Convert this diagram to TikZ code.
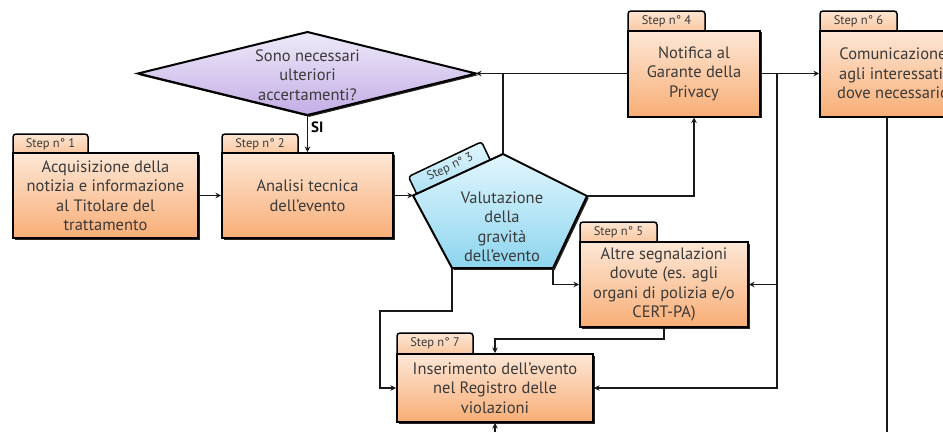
\documentclass[tikz,border=0pt]{standalone}
\usepackage{fontspec}
\setmainfont{PT Sans}
\usetikzlibrary{shadows,arrows.meta}
\definecolor{txt}{HTML}{3A3A3A}
\definecolor{orT}{HTML}{FDE7D6}
\definecolor{orB}{HTML}{F8AE76}
\definecolor{tabT}{HTML}{FDE6D3}
\definecolor{tabB}{HTML}{F9C094}
\definecolor{blT}{HTML}{E2F6FD}
\definecolor{blB}{HTML}{8DD5EF}
\definecolor{liT}{HTML}{EEEAF9}
\definecolor{liB}{HTML}{C3ADE5}
\begin{document}
\begin{tikzpicture}[x=1pt,y=-1pt,
  shd/.style={drop shadow={shadow xshift=1.8pt,shadow yshift=-1.8pt,opacity=1,fill=black!85}},
  bodytxt/.style={font=\fontsize{16.5}{19.5}\selectfont,text=txt,align=center,inner sep=0pt},
  stepbox/.style={draw=black,line width=2pt,top color=orT,bottom color=orB,shd,bodytxt},
  tabbox/.style={draw=black,line width=1.5pt,top color=tabT,bottom color=tabB},
  tablbl/.style={font=\fontsize{12.5}{13}\selectfont,text=txt,inner sep=0pt},
  conn/.style={line width=1.8pt,draw=black!90},
  arr/.style={conn,-{Stealth[length=5.5pt,width=5.5pt]}},
]
\useasboundingbox (0,0) rectangle (943,432);
\clip (0,0) rectangle (943,432);

% tabs
\draw[tabbox] (13,158) [rounded corners=3pt] -- (13,134) -- (88,134) [sharp corners] -- (88,158) -- cycle;
\node[tablbl] (t1) at (50.5,144) {Step n° 1};
\draw[tabbox] (222,158) [rounded corners=3pt] -- (222,134) -- (298,134) [sharp corners] -- (298,158) -- cycle;
\node[tablbl] (t2) at (260,144) {Step n° 2};
\draw[tabbox] (628,36) [rounded corners=3pt] -- (628,11) -- (705,11) [sharp corners] -- (705,36) -- cycle;
\node[tablbl] (t4) at (666.5,21) {Step n° 4};
\draw[tabbox] (820,36) [rounded corners=3pt] -- (820,11) -- (897,11) [sharp corners] -- (897,36) -- cycle;
\node[tablbl] (t6) at (858.5,21) {Step n° 6};
\draw[tabbox] (580,247) [rounded corners=3pt] -- (580,222) -- (657,222) [sharp corners] -- (657,247) -- cycle;
\node[tablbl] (t5) at (618.5,232) {Step n° 5};
\draw[tabbox] (397,359) [rounded corners=3pt] -- (397,333) -- (473,333) [sharp corners] -- (473,359) -- cycle;
\node[tablbl] (t7) at (435,343.5) {Step n° 7};

% step 3 tab (rotated)
\begin{scope}[shift={(413,195.5)},rotate=25.5]
  \draw[draw=black,line width=1.5pt,top color=blT,bottom color=blB!70!blT] (4,5) [rounded corners=3pt] -- (4,-19) -- (85,-19) [sharp corners] -- (85,5) -- cycle;
  \node[tablbl,transform shape] (t3) at (46,-9.5) {Step n° 3};
\end{scope}

% boxes
\node[stepbox,minimum width=185pt,minimum height=85pt] (s1) at (105.5,195.5)
  {Acquisizione della\\notizia e informazione\\al Titolare del\\trattamento};
\node[stepbox,minimum width=171pt,minimum height=85pt] (s2) at (307.5,195.5)
  {Analisi tecnica\\dell’evento};
\node[stepbox,minimum width=132pt,minimum height=86pt] (s4) at (694,73.5)
  {Notifica al\\Garante della\\Privacy};
\node[stepbox,minimum width=146pt,minimum height=86pt] (s6) at (893,73.5)
  {Comunicazione\\agli interessati,\\dove necessario};
\node[stepbox,minimum width=168pt,minimum height=85pt] (s5) at (664,284.5)
  {Altre segnalazioni\\dovute (es. agli\\organi di polizia e/o\\CERT-PA)};
\node[stepbox,minimum width=196pt,minimum height=68pt] (s7) at (495,388)
  {Inserimento dell’evento\\nel Registro delle\\violazioni};

% diamond
\coordinate (dl) at (138,73.5);
\coordinate (dt) at (307.5,32);
\coordinate (dr) at (476,73.5);
\coordinate (db) at (307.5,115);
\path[draw=black,line width=2pt,top color=liT,bottom color=liB,shd] (dl) -- (dt) -- (dr) -- (db) -- cycle;
\node[bodytxt] (d) at (307.5,75) {Sono necessari\\ulteriori\\accertamenti?};

% pentagon
\coordinate (p3top) at (503,154);
\coordinate (p3left) at (413,195.5);
\coordinate (p3right) at (587,196);
\coordinate (p3br) at (553,268);
\coordinate (p3bl) at (452,268);
\path[draw=black,line width=2pt,top color=blT,bottom color=blB,shd] (p3top) -- (p3right) -- (p3br) -- (p3bl) -- (p3left) -- cycle;
\node[bodytxt] (p3) at (502,227) {Valutazione\\della\\gravità\\dell’evento};

% connectors
\draw[arr] (s1.east) -- (s2.west);
\draw[arr] (s2.east) -- (s2.east -| p3left);
\draw[arr] (db) -- (db |- s2.north);
\node[font=\bfseries\fontsize{15}{16}\selectfont,anchor=west,inner sep=0pt] (si) at (311,127) {SI};
\draw[arr] (s4.west) -- (s4.west -| dr);
\draw[conn] (p3top) -- (p3top |- s4.west);
\draw[arr] (p3right) -| (s4.south);
\draw[arr] (s4.east) -- (s6.west);
\coordinate (j) at (777,73.5);
\draw[arr] (j) |- (s5.east);
\draw[arr] (j) |- (s7.east);
\draw[arr] (p3br) |- (s5.west);
\draw[arr] (s5.south) -- ++(0,11) -| (s7.north);
\coordinate (k) at (380,311);
\draw[arr] (p3bl) |- (k) |- (s7.west);
\coordinate (b7) at (495,432);
\draw[arr] (b7) -- (s7.south);
\coordinate (b6) at (887,432);
\draw[conn] (s6.south -| b6) -- (b6);
\end{tikzpicture}
\end{document}
